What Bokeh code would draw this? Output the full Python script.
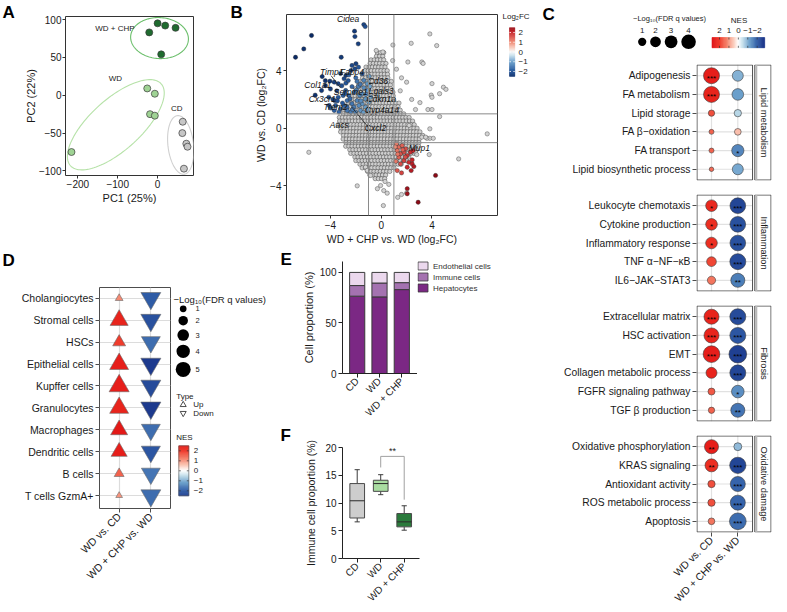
import math
import numpy as np
from bokeh.plotting import figure
from bokeh.layouts import row, column
from bokeh.models import Range1d, FixedTicker, Span, ColumnDataSource
from bokeh.core.properties import value
from bokeh.embed import file_html
from bokeh.resources import INLINE

FONT = "Liberation Sans"
INK = "#1a1a1a"
AX = "#333333"

# ======================= DATA =======================
# ---- A: PCA ----
pca_group = ["WD + CHP"] * 5 + ["WD"] * 5 + ["CD"] * 5
pca_pc1 = [-21, 0, 19, 45, 9, -26, -7, -19, -7, -216, 63, 62, 72, 75, 66]
pca_pc2 = [83, 95, 92, 89, 54, 9, 2, -25, -27, -75, -35, -50, -64, -68, -97]
group_names = ["WD + CHP", "WD", "CD"]
group_label_x = [-107, -106, 48]
group_label_y = [88, 22, -17]
ellipse_cx = [4.8, -104.8, 58.0]
ellipse_cy = [75.5, -39.0, -65.6]
ellipse_major_px = [30.5, 63.0, 29.5]
ellipse_minor_px = [20.5, 26.0, 13.5]
ellipse_angle_deg = [-3.0, 40.0, 97.0]

# ---- B: log2FC vs log2FC ----
cloud_row_y = [5.25, 5.0, 4.75, 4.5, 4.25, 4.0, 3.75, 3.5, 3.25, 3.0, 2.75, 2.5, 2.25, 2.0,
               1.75, 1.5, 1.25, 1.0, 0.75, 0.5, 0.25, 0.0, -0.25, -0.5, -0.75, -1.0, -1.25,
               -1.5, -1.75, -2.0, -2.25, -2.5, -2.75, -3.0, -3.25, -3.5]
cloud_row_xmin = [-0.3, -0.5, -0.8, -1.0, -1.2, -1.4, -1.5, -1.6, -1.7, -1.9, -2.0, -2.2, -2.3, -2.4,
                  -2.6, -2.8, -3.0, -3.1, -3.3, -3.4, -3.4, -3.3, -3.2, -3.1, -3.0, -2.9, -2.8,
                  -2.6, -2.4, -2.2, -2.0, -1.8, -1.5, -1.2, -0.9, -0.6]
cloud_row_xmax = [0.2, 0.3, 0.4, 0.4, 0.5, 0.5, 0.6, 0.7, 0.8, 0.8, 0.9, 1.0, 1.1, 1.2,
                  1.4, 1.5, 1.7, 1.9, 2.2, 2.5, 2.7, 2.9, 3.1, 3.3, 3.2, 3.1, 3.0,
                  2.8, 2.6, 2.3, 2.0, 1.6, 1.2, 0.8, 0.5, 0.3]
bg_x = [3.83, 4.37, 2.36, 0.92, -0.39, 0.13, 2.10, 3.20, 3.30, 1.60, 2.00, 4.00, 4.90, 5.10,
        4.60, 3.94, 4.00, 2.40, 3.05, 3.68, 4.00, 2.70, 4.60, 3.83, 3.83, 8.35, 3.60, 4.10,
        -5.70, 3.78, 6.10, -1.89, 0.20, 0.47, -0.05, 0.17, 1.60, 2.00, 1.30, -1.24, -1.10,
        -0.84, 2.70, 2.80, 3.20, 3.50, 1.20, 0.90, 1.50, 2.20, 0.30, 0.60, -0.30]
bg_y = [6.55, 5.74, 5.90, 5.78, 5.40, 5.30, 4.60, 4.60, 4.50, 3.50, 3.20, 3.10, 2.85, 2.70,
        2.40, 2.30, 2.15, 2.00, 1.78, 1.30, 1.30, 1.30, 0.81, -0.04, -0.70, -0.39, -0.70, -0.70,
        -1.67, -1.83, -2.13, -4.00, -4.33, -4.51, -3.98, -5.37, -4.60, -4.50, -4.80, -2.70, -2.93,
        -3.28, -1.67, -1.83, -0.62, -0.62, 4.10, 4.70, 2.60, 0.20, -3.70, -3.90, -4.20]
down_x = [-5.49, -6.75, -6.10, -3.15, -2.10, -2.07, -1.81, -1.37, -1.26, -1.99, -2.07, -2.39,
          -2.78, -2.92, -4.04, -3.70, -3.39, -2.78, -4.65, -4.39, -4.00, -4.70, -4.13, -3.67,
          -3.39, -3.00, -3.99, -3.60, -3.20, -2.70, -2.30, -2.30, -1.79, -1.50, -2.60, -2.30,
          -2.10, -1.70, -1.37, -1.10, -1.50, -1.24, -0.98, -1.50, -1.24, -1.63, -1.89, -2.15,
          -2.41, -0.84, -1.10, -1.37, -2.68, -2.94, -2.55, -2.80, -1.76, -2.02, -2.68, -3.33,
          -3.70, -4.10, -0.90, -1.00, -1.80, -2.00, -1.60, -1.40, -0.95, -3.50, -5.20, -3.20, -4.40,
          -3.05, -2.45, -1.95, -3.45, -2.85, -2.25, -1.65, -3.80, -2.55, -1.90, -1.20, -3.10]
down_y = [6.44, 4.93, 5.51, 4.93, 6.74, 6.37, 5.86, 7.20, 7.06, 4.48, 4.13, 4.00,
          3.67, 3.44, 3.27, 3.20, 3.09, 3.13, 3.59, 2.96, 2.73, 2.62, 2.15, 1.92,
          2.15, 2.27, 1.41, 1.58, 1.35, 1.46, 1.70, 4.36, 4.24, 3.78, 3.31, 2.89,
          2.50, 2.27, 2.81, 2.62, 2.39, 2.04, 1.81, 1.69, 1.46, 1.23, 1.92, 1.46,
          1.12, 2.16, 3.09, 3.33, 1.92, 1.58, 2.27, 2.62, 1.58, 1.12, 1.23, 1.12,
          1.23, 1.58, 2.90, 1.30, 2.90, 3.50, 1.90, 1.10, 3.60, 2.60, 2.30, 3.80, 3.30,
          1.75, 2.05, 2.65, 1.90, 2.40, 1.30, 3.05, 2.00, 3.70, 3.25, 2.35, 2.95]
down_fc = [-2.6, -2.6, -2.5, -2.4, -2.4, -2.3, -2.3, -2.2, -2.1, -2.3, -2.2, -2.3,
           -2.4, -2.2, -2.4, -2.3, -2.2, -2.0, -2.5, -2.4, -2.3, -2.4, -2.2, -2.1,
           -2.0, -1.9, -2.0, -1.9, -1.8, -1.7, -1.6, -2.2, -2.0, -1.8, -2.0, -1.8,
           -1.6, -1.4, -1.3, -1.1, -1.3, -1.2, -1.0, -1.2, -1.1, -1.2, -1.4, -1.5,
           -1.5, -1.0, -1.2, -1.4, -1.7, -1.8, -1.7, -1.9, -1.3, -1.4, -1.6, -1.8,
           -1.9, -2.1, -1.0, -1.0, -1.5, -1.7, -1.3, -1.1, -1.1, -2.2, -2.5, -2.3, -2.5,
           -2.0, -1.8, -1.5, -2.1, -1.9, -1.5, -1.6, -2.2, -1.9, -1.6, -1.2, -2.1]
up_x = [1.20, 1.39, 1.65, 1.92, 1.26, 1.52, 1.79, 2.05, 2.31, 2.52, 1.39, 1.79, 2.18, 2.44,
        1.52, 2.05, 2.44, 2.57, 2.36, 1.26, 4.28, 2.05, 2.05, 2.91, 1.10, 1.30, 1.70, 1.15, 1.60, 1.90]
up_y = [-1.08, -1.31, -1.20, -1.43, -1.55, -1.78, -1.66, -1.90, -1.66, -1.55, -2.02, -2.25, -2.37, -2.20,
        -2.48, -2.71, -2.48, -2.66, -2.94, -2.94, -3.28, -4.20, -4.55, -5.14, -1.30, -1.80, -1.50, -2.30, -3.10, -2.00]
up_fc = [1.1, 1.3, 1.4, 1.6, 1.2, 1.5, 1.6, 1.8, 1.9, 2.0, 1.4, 1.7, 1.9, 2.0,
         1.6, 2.0, 2.1, 2.2, 2.2, 1.5, 2.6, 2.4, 2.4, 2.6, 1.0, 1.2, 1.4, 1.2, 1.7, 1.6]
gene_name = ["Cidea", "Timp1", "Fabp4", "Col1a1", "Cd36", "Serpine1", "Lgals3", "Cx3cr1",
             "Cdkn1a", "Trem2", "Cyp4a14", "Aacs", "Cxcl2", "Mup1"]
gene_x = [-2.6, -3.9, -2.3, -5.0, -0.25, -2.4, 0.0, -4.65, 0.0, -3.6, 0.05, -3.3, -0.45, 3.0]
gene_y = [7.6, 3.9, 3.9, 3.0, 3.3, 2.55, 2.6, 2.0, 2.0, 1.45, 1.3, 0.25, 0.05, -1.35]
leader_x0 = [-3.95, -2.3]
leader_y0 = [3.65, 1.45]
leader_x1 = [-3.2, -0.95]
leader_y1 = [2.8, 0.0]

# ---- C: pathway dot plot ----
c_pathway = ["Adipogenesis", "FA metabolism", "Lipid storage", "FA β−oxidation", "FA transport",
             "Lipid biosynthetic process",
             "Leukocyte chemotaxis", "Cytokine production", "Inflammatory response", "TNF α−NF−κB",
             "IL6−JAK−STAT3",
             "Extracellular matrix", "HSC activation", "EMT", "Collagen metabolic process",
             "FGFR signaling pathway", "TGF β production",
             "Oxidative phosphorylation", "KRAS signaling", "Antioxidant activity",
             "ROS metabolic process", "Apoptosis"]
c_category = ["Lipid metabolism"] * 6 + ["Inflammation"] * 5 + ["Fibrosis"] * 6 + ["Oxidative damage"] * 5
c_q_wd = [4.9, 4.9, 0.41, 0.1, 0.1, 0.0,
          2.4, 2.4, 2.4, 1.55, 1.0,
          4.3, 4.3, 5.4, 2.1, 0.6, 0.41,
          3.7, 3.1, 0.7, 0.7, 0.52]
c_q_chp = [2.1, 2.4, 0.7, 0.52, 2.7, 2.1,
           4.7, 4.7, 4.7, 4.9, 3.7,
           4.9, 4.9, 6.1, 4.9, 2.9, 3.7,
           0.9, 5.1, 4.3, 4.3, 5.4]
c_nes_wd = [2.4, 2.3, 1.7, 1.5, 1.5, 1.4,
            2.2, 2.1, 2.1, 1.8, 1.3,
            2.3, 2.3, 2.4, 2.3, 1.6, 1.5,
            2.4, 2.1, 1.7, 1.7, 1.3]
c_nes_chp = [-1.0, -1.2, -0.6, 0.6, -1.5, -1.1,
             -2.4, -2.2, -2.2, -2.3, -1.6,
             -2.3, -2.1, -2.5, -2.4, -1.4, -1.7,
             -0.9, -2.4, -1.9, -1.9, -1.8]
c_sig_wd = ["***", "***", "", "", "", "",
            "*", "*", "*", "", "",
            "***", "***", "***", "", "", "",
            "**", "**", "", "", ""]
c_sig_chp = ["", "", "", "", "*", "",
             "***", "***", "***", "***", "**",
             "***", "***", "***", "***", "*", "**",
             "", "***", "***", "***", "***"]
comparisons = ["WD vs. CD", "WD + CHP vs. WD"]
c_legend_q = [1, 2, 3, 4]
nes_ticks = [2, 1, 0, -1, -2]

# ---- D: cell types ----
d_cell = ["Cholangiocytes", "Stromal cells", "HSCs", "Epithelial cells", "Kupffer cells",
          "Granulocytes", "Macrophages", "Dendritic cells", "B cells", "T cells GzmA+"]
d_q_up = [0.8, 4.3, 2.2, 4.7, 5.3, 4.7, 3.8, 3.4, 1.3, 0.6]
d_q_down = [5.2, 5.3, 4.7, 5.3, 5.2, 5.3, 4.7, 4.8, 4.7, 5.2]
d_nes_up = [1.1, 2.3, 1.9, 2.4, 2.4, 2.3, 2.5, 2.4, 1.5, 1.0]
d_nes_down = [-2.0, -2.2, -1.8, -2.6, -2.3, -2.6, -1.8, -2.1, -1.7, -1.8]
d_legend_q = [1, 2, 3, 4, 5]

# ---- E: cell proportions ----
diet = ["CD", "WD", "WD + CHP"]
e_series = ["Hepatocytes", "Immune cells", "Endothelial cells"]
e_hep = [76.5, 75.8, 83.0]
e_imm = [10.5, 13.7, 6.9]
e_endo = [13.0, 10.5, 10.1]

# ---- F: immune cell proportion box plot ----
f_min = [6.6, 11.5, 5.1]
f_q1 = [7.3, 12.1, 5.7]
f_med = [10.4, 13.5, 6.6]
f_q3 = [13.5, 14.1, 8.1]
f_max = [16.0, 15.1, 9.5]
f_sig_pair = [2, 3]
f_sig_top = 18.4
f_sig_leg = [16.4, 10.6]
f_sig_text = "**"

# ======================= STYLE HELPERS =======================
NES_STOPS = [(-2.8, "#172f86"), (-2.0, "#2f5ca6"), (-1.2, "#6a9fcb"), (-0.5, "#c4dfeb"), (0.0, "#ffffff"),
             (0.5, "#fbc9b8"), (1.2, "#f47e66"), (2.0, "#ee3324"), (2.8, "#dd0a0f")]
FC_STOPS = [(-2.6, "#0a2a66"), (-2.0, "#24569b"), (-1.0, "#6ea3cd"), (-0.3, "#d6e7f1"), (0.0, "#f7f7f7"),
            (0.3, "#f9d9cc"), (1.0, "#ef8a74"), (2.0, "#c8252a"), (2.6, "#8c0a16")]
E_COLORS = ["#7b2884", "#a472b0", "#ebd8ed"]


def hex2rgb(h):
    h = h.lstrip("#")
    return tuple(int(h[i:i + 2], 16) for i in (0, 2, 4))


def ramp(v, stops):
    if v <= stops[0][0]:
        return stops[0][1]
    if v >= stops[-1][0]:
        return stops[-1][1]
    for (a, ca), (b, cb) in zip(stops[:-1], stops[1:]):
        if a <= v <= b:
            t = (v - a) / (b - a)
            ra, rb = hex2rgb(ca), hex2rgb(cb)
            return "#%02x%02x%02x" % tuple(int(round(ra[i] + t * (rb[i] - ra[i]))) for i in range(3))
    return stops[-1][1]


def base(w, h, xr, yr, l, r, t, b):
    p = figure(width=w, height=h, x_range=xr, y_range=yr, output_backend="svg",
               toolbar_location=None, tools="", title=None,
               min_border_left=l, min_border_right=r, min_border_top=t, min_border_bottom=b)
    p.frame_align = False
    p.outline_line_color = None
    p.grid.visible = False
    p.background_fill_color = "white"
    p.border_fill_color = "white"
    for ax in p.axis:
        ax.major_label_text_font = FONT
        ax.major_label_text_font_size = "10px"
        ax.major_label_text_color = INK
        ax.axis_label_text_font = FONT
        ax.axis_label_text_font_size = "11px"
        ax.axis_label_text_font_style = "normal"
        ax.axis_label_text_color = INK
        ax.minor_tick_line_color = None
        ax.major_tick_in = 0
        ax.major_tick_out = 3
        ax.major_tick_line_color = AX
        ax.axis_line_color = AX
        ax.major_label_standoff = 2
        ax.axis_label_standoff = 2
    return p


def pixfig(w, h):
    p = figure(width=w, height=h, x_range=Range1d(0, w), y_range=Range1d(h, 0), output_backend="svg",
               toolbar_location=None, tools="", title=None,
               min_border_left=0, min_border_right=0, min_border_top=0, min_border_bottom=0)
    p.frame_align = False
    p.axis.visible = False
    p.grid.visible = False
    p.outline_line_color = None
    return p


def txt(p, xs, ys, ts, size, align="left", baseline="middle", color=INK, style="normal", angle=0.0, yoff=0):
    p.text(x=list(xs), y=list(ys), text=list(ts), text_font=value(FONT), text_font_size=size,
           text_align=align, text_baseline=baseline, text_color=color, text_font_style=style,
           angle=angle, y_offset=yoff)


def letterfig(w, h, ch, x, y):
    p = pixfig(w, h)
    txt(p, [x], [y], [ch], "17px", style="bold", color="black")
    return p


def minus(v):
    return ("−%g" % abs(v)) if v < 0 else "%g" % v


GROUP_FILL = {"WD + CHP": "#1f6b2f", "WD": "#9fd394", "CD": "#c6c6c6"}
GROUP_LINE = {"WD + CHP": "#6cbf6c", "WD": "#b6e2a8", "CD": "#d0d0d0"}

# ======================= PANEL A =======================
pA = base(209, 248, Range1d(-231, 90), Range1d(-106, 104), 37, 37, 16, 73)
pA.outline_line_color = AX
pA.axis.axis_line_color = None
pA.axis.major_label_standoff = 1
pA.xaxis.axis_label_standoff = 1
pA.yaxis.axis_label_standoff = -1
pA.xaxis.ticker = FixedTicker(ticks=[-200, -100, 0])
pA.xaxis.major_label_overrides = {t: minus(t) for t in [-200, -100, 0]}
pA.yaxis.ticker = FixedTicker(ticks=[-100, -50, 0, 50, 100])
pA.yaxis.major_label_overrides = {t: minus(t) for t in [-100, -50, 0, 50, 100]}
pA.xaxis.axis_label = "PC1 (25%)"
pA.yaxis.axis_label = "PC2 (22%)"
sxA = 135.0 / 321.0
syA = 159.0 / 210.0
tt = np.linspace(0, 2 * np.pi, 120)
for g, cx, cy, a, b, ang in zip(group_names, ellipse_cx, ellipse_cy, ellipse_major_px,
                                ellipse_minor_px, ellipse_angle_deg):
    th = math.radians(ang)
    X = a * np.cos(tt) * math.cos(th) - b * np.sin(tt) * math.sin(th)
    Y = a * np.cos(tt) * math.sin(th) + b * np.sin(tt) * math.cos(th)
    pA.line(cx + X / sxA, cy + Y / syA, line_color=GROUP_LINE[g], line_width=1.1)
pA.scatter(pca_pc1, pca_pc2, size=7, marker="circle",
           fill_color=[GROUP_FILL[g] for g in pca_group], line_color="#3a3a3a", line_width=0.7)
txt(pA, group_label_x, group_label_y, group_names, "8px", align="center")
letA = letterfig(21, 248, "A", 2, 11.5)

# ======================= PANEL B =======================
pB = base(254, 248, Range1d(-7.46, 9.16), Range1d(-6.06, 7.9), 40, 3, 14, 33)
pB.outline_line_color = AX
pB.axis.axis_line_color = None
pB.xaxis.ticker = FixedTicker(ticks=[-4, 0, 4])
pB.yaxis.ticker = FixedTicker(ticks=[-4, 0, 4])
pB.xaxis.major_label_overrides = {-4: "−4", 0: "0", 4: "4"}
pB.yaxis.major_label_overrides = {-4: "−4", 0: "0", 4: "4"}
pB.xaxis.axis_label = "WD + CHP vs. WD (log₂FC)"
pB.yaxis.axis_label = "WD vs. CD (log₂FC)"
pB.axis.axis_label_text_font_size = "10.5px"
pB.yaxis.axis_label_standoff = 0
pB.xaxis.axis_label_standoff = 1
cx_pts, cy_pts = [], []
for k, (yy, xa, xb) in enumerate(zip(cloud_row_y, cloud_row_xmin, cloud_row_xmax)):
    off = 0.125 if k % 2 else 0.0
    xs = np.arange(xa + off, xb + 1e-6, 0.25)
    cx_pts += list(xs)
    cy_pts += [yy] * len(xs)
pB.scatter(cx_pts, cy_pts, size=4.3, marker="circle", fill_color="#cfcfcf", line_color="#505050", line_width=0.55)
pB.scatter(bg_x, bg_y, size=4.3, marker="circle", fill_color="#d2d2d2", line_color="#555555", line_width=0.5)
pB.scatter(down_x, down_y, size=4.3, marker="circle", fill_color=[ramp(v, FC_STOPS) for v in down_fc],
           line_color="#2a2a2a", line_width=0.4)
pB.scatter(up_x, up_y, size=4.3, marker="circle", fill_color=[ramp(v, FC_STOPS) for v in up_fc],
           line_color="#2a2a2a", line_width=0.4)
for loc, dim in [(-1, "height"), (1, "height"), (-1, "width"), (1, "width")]:
    pB.add_layout(Span(location=loc, dimension=dim, line_color="#8a8a8a", line_width=1))
pB.segment(leader_x0, leader_y0, leader_x1, leader_y1, line_color="#222222", line_width=0.8)
txt(pB, gene_x, gene_y, gene_name, "8.5px", align="center", style="italic", color="#111111")
letB = letterfig(16, 248, "B", 0, 11.5)

pBc = pixfig(40, 248)
n_steps = 60
FC0 = 51.5
vals = np.linspace(2.5, -2.5, n_steps + 1)
mids = (vals[:-1] + vals[1:]) / 2
cols = [ramp(m, FC_STOPS) for m in mids]
pBc.quad(left=9, right=14.3, top=list(FC0 - vals[:-1] * 9.75), bottom=list(FC0 - vals[1:] * 9.75),
         fill_color=cols, line_color=cols, line_width=0.5)
fc_ticks = [2, 1, 0, -1, -2]
pBc.segment(x0=[9] * 5, x1=[10.5] * 5, y0=[FC0 - t * 9.75 for t in fc_ticks],
            y1=[FC0 - t * 9.75 for t in fc_ticks], line_color="white", line_width=0.8)
pBc.segment(x0=[12.8] * 5, x1=[14.3] * 5, y0=[FC0 - t * 9.75 for t in fc_ticks],
            y1=[FC0 - t * 9.75 for t in fc_ticks], line_color="white", line_width=0.8)
txt(pBc, [18] * 5, [FC0 - t * 9.75 for t in fc_ticks], [minus(t) for t in fc_ticks], "8px")
txt(pBc, [2], [16], ["Log₂FC"], "8px")

# ======================= PANEL D =======================
pD = base(172, 332, Range1d(0.38, 2.62), Range1d(0.41, 10.49), 99, 2, 9, 102)
pD.outline_line_color = "#4d4d4d"
d_rows = list(range(len(d_cell), 0, -1))
pD.yaxis.ticker = FixedTicker(ticks=d_rows)
pD.yaxis.major_label_overrides = {r: c for r, c in zip(d_rows, d_cell)}
pD.xaxis.ticker = FixedTicker(ticks=[1, 2])
pD.xaxis.major_label_overrides = {1: comparisons[0], 2: comparisons[1]}
pD.xaxis.major_label_orientation = math.pi / 4
pD.axis.axis_line_color = None
pD.axis.major_label_text_font_size = "10.5px"
pD.axis.major_tick_out = 4
pD.axis.major_tick_line_color = "#4d4d4d"
pD.xgrid.visible = True
pD.ygrid.visible = True
pD.xgrid.ticker = FixedTicker(ticks=[1, 2])
pD.ygrid.ticker = FixedTicker(ticks=d_rows)
pD.grid.grid_line_color = "#dcdcdc"
pD.grid.grid_line_width = 1.2
TRI_K = 1.3
pD.scatter([1] * len(d_rows), d_rows, marker="triangle",
           size=[TRI_K * math.sqrt(45 * q) for q in d_q_up],
           fill_color=[ramp(v, NES_STOPS) for v in d_nes_up], line_color="#6a6a6a", line_width=0.6)
pD.scatter([2] * len(d_rows), d_rows, marker="inverted_triangle",
           size=[TRI_K * math.sqrt(45 * q) for q in d_q_down],
           fill_color=[ramp(v, NES_STOPS) for v in d_nes_down], line_color="#6a6a6a", line_width=0.6)
letD = letterfig(172, 30, "D", 2, 12)

pDl = pixfig(108, 362)
txt(pDl, [1], [51], ["−Log₁₀(FDR q values)"], "9.5px")
dd = [math.sqrt(45 * q) for q in d_legend_q]
dy = [60.3]
for i in range(1, len(dd)):
    dy.append(dy[-1] + (dd[i - 1] + dd[i]) / 2 + 3.8)
pDl.scatter([10.7] * len(dd), dy, size=dd, marker="circle", fill_color="black", line_color=None)
txt(pDl, [23] * len(dd), dy, [str(q) for q in d_legend_q], "7.5px")
txt(pDl, [3.7], [147.7], ["Type"], "8px")
pDl.scatter([10.7], [156.3], marker="triangle", size=6, fill_color=None, line_color="#222222", line_width=0.8)
pDl.scatter([10.7], [164.7], marker="inverted_triangle", size=6, fill_color=None, line_color="#222222", line_width=0.8)
txt(pDl, [20.7, 20.7], [156.3, 164.7], ["Up", "Down"], "8px")
txt(pDl, [3.7], [189.3], ["NES"], "8px")
vals = np.linspace(2.5, -2.5, n_steps + 1)
mids = (vals[:-1] + vals[1:]) / 2
cols = [ramp(m, NES_STOPS) for m in mids]
pDl.quad(left=6.3, right=16.3, top=list(222.3 - vals[:-1] * 10), bottom=list(222.3 - vals[1:] * 10),
         fill_color=cols, line_color=cols, line_width=0.5)
pDl.segment(x0=[6.3] * 5, x1=[8.3] * 5, y0=[222.3 - t * 10 for t in nes_ticks],
            y1=[222.3 - t * 10 for t in nes_ticks], line_color="#333333", line_width=0.7)
pDl.segment(x0=[14.3] * 5, x1=[16.3] * 5, y0=[222.3 - t * 10 for t in nes_ticks],
            y1=[222.3 - t * 10 for t in nes_ticks], line_color="#333333", line_width=0.7)
pDl.quad(left=6.3, right=16.3, top=197.3, bottom=247.3, fill_color=None, line_color="#555555", line_width=0.6)
txt(pDl, [21.3] * 5, [222.3 - t * 10 for t in nes_ticks], [minus(t) for t in nes_ticks], "8px")

# ======================= PANEL E =======================
pE = base(119, 177, Range1d(0.341, 3.704), Range1d(0, 110.8), 44, 0, 13, 51)
pE.xaxis.ticker = FixedTicker(ticks=[1, 2, 3])
pE.xaxis.major_label_overrides = {i + 1: d for i, d in enumerate(diet)}
pE.xaxis.major_label_orientation = math.pi / 4
pE.yaxis.ticker = FixedTicker(ticks=[0, 50, 100])
pE.yaxis.axis_label = "Cell proportion (%)"
pE.yaxis.axis_label_standoff = 2
pE.axis.axis_line_color = "#222222"
pE.axis.major_tick_line_color = "#222222"
pE.axis.major_tick_out = 4
srcE = ColumnDataSource(dict(x=[1, 2, 3], hep=e_hep, imm=e_imm, endo=e_endo))
pE.vbar_stack(["hep", "imm", "endo"], x="x", width=0.68, source=srcE,
              fill_color=E_COLORS, line_color="#3a3a3a", line_width=1)
letE = letterfig(18, 177, "E", 0, 10.5)
pEl = pixfig(123, 177)
leg_order = list(reversed(range(len(e_series))))
ly = [17.5 + 11 * k for k in range(len(leg_order))]
pEl.quad(left=0.5, right=10.5, top=[y - 4 for y in ly], bottom=[y + 4 for y in ly],
         fill_color=[E_COLORS[i] for i in leg_order], line_color="#3a3a3a", line_width=0.8)
txt(pEl, [15.5] * len(ly), ly, [e_series[i] for i in leg_order], "8px", color="#333333")

# ======================= PANEL F =======================
pF = base(242, 185, Range1d(0.374, 3.651), Range1d(0, 20), 44, 121, 22, 52)
pF.xaxis.ticker = FixedTicker(ticks=[1, 2, 3])
pF.xaxis.major_label_overrides = {i + 1: d for i, d in enumerate(diet)}
pF.xaxis.major_label_orientation = math.pi / 4
pF.yaxis.ticker = FixedTicker(ticks=[0, 5, 10, 15, 20])
pF.yaxis.axis_label = "Immune cell proportion (%)"
pF.yaxis.axis_label_standoff = 5
pF.axis.axis_label_text_font_size = "10.5px"
pF.axis.axis_line_color = "#222222"
pF.axis.major_tick_line_color = "#222222"
pF.axis.major_tick_out = 4
fx = [1, 2, 3]
bw = 0.625
pF.segment(fx, f_min, fx, f_q1, line_color="#3a3a3a", line_width=1)
pF.segment(fx, f_q3, fx, f_max, line_color="#3a3a3a", line_width=1)
pF.segment([x - 0.11 for x in fx], f_min, [x + 0.11 for x in fx], f_min, line_color="#3a3a3a", line_width=1)
pF.segment([x - 0.11 for x in fx], f_max, [x + 0.11 for x in fx], f_max, line_color="#3a3a3a", line_width=1)
pF.vbar(x=fx, width=bw, bottom=f_q1, top=f_q3, fill_color=["#cdcdcd", "#a9dca1", "#2a7a3b"],
        line_color="#4a4a4a", line_width=1)
pF.segment([x - bw / 2 for x in fx], f_med, [x + bw / 2 for x in fx], f_med, line_color="#2a2a2a", line_width=1)
pF.segment([f_sig_pair[0], f_sig_pair[0], f_sig_pair[1]], [f_sig_leg[0], f_sig_top, f_sig_leg[1]],
           [f_sig_pair[0], f_sig_pair[1], f_sig_pair[1]], [f_sig_top, f_sig_top, f_sig_top],
           line_color="#a0a0a0", line_width=1)
txt(pF, [(f_sig_pair[0] + f_sig_pair[1]) / 2], [f_sig_top + 0.9], [f_sig_text], "9px", align="center")
letF = letterfig(18, 185, "F", 0, 10)

# ======================= PANEL C =======================
pCl = pixfig(245, 62)
txt(pCl, [2], [14], ["C"], "17px", style="bold", color="black")
txt(pCl, [129], [18], ["−Log₁₀(FDR q values)"], "7.5px", align="center")
cd = [math.sqrt(20 + 48 * q) for q in c_legend_q]
cxl = [101.7]
for i in range(1, len(cd)):
    cxl.append(cxl[-1] + (cd[i - 1] + cd[i]) / 2 + 3.8)
txt(pCl, cxl, [29.7] * len(cd), [str(q) for q in c_legend_q], "8px", align="center")
pCl.scatter(cxl, [41.3] * len(cd), size=cd, marker="circle", fill_color="black", line_color=None)
txt(pCl, [198.5], [19.7], ["NES"], "8px", align="center")
hv = np.linspace(2.8, -2.8, n_steps + 1)
hm = (hv[:-1] + hv[1:]) / 2
hc = [ramp(m, NES_STOPS) for m in hm]
pCl.quad(left=list(197.85 - hv[:-1] * 9.42), right=list(197.85 - hv[1:] * 9.42), top=37, bottom=47.3,
         fill_color=hc, line_color=hc, line_width=0.5)
pCl.segment(x0=[197.85 - t * 9.42 for t in nes_ticks], x1=[197.85 - t * 9.42 for t in nes_ticks],
            y0=[45.3] * 5, y1=[47.3] * 5, line_color="#333333", line_width=0.7)
pCl.segment(x0=[197.85 - t * 9.42 for t in nes_ticks], x1=[197.85 - t * 9.42 for t in nes_ticks],
            y0=[37] * 5, y1=[39] * 5, line_color="#333333", line_width=0.7)
txt(pCl, [197.85 - t * 9.42 for t in nes_ticks], [29.7] * 5, [minus(t) for t in nes_ticks], "8px", align="center")

C_X0, C_X1 = 0.43, 3.28
C_W = 245


def c_size(q):
    return math.sqrt(20 + 48 * q)


def facet(cat, h, top, bottom, show_x):
    idx = [i for i, c in enumerate(c_category) if c == cat]
    names = [c_pathway[i] for i in idx]
    n = len(names)
    ys = [n - k for k in range(n)]
    y0, y1 = 0.4, n + 0.6
    p = base(C_W, h, Range1d(C_X0, C_X1), Range1d(y0, y1), 156, C_W - 156 - 75, top, bottom)
    frame_h = h - top - bottom
    upy = (y1 - y0) / frame_h
    upx = (C_X1 - C_X0) / 75.0
    bx0, bx1 = C_X0 + 0.5 * upx, 2.56
    by0, by1 = y0 + 0.5 * upy, y1 - 0.5 * upy
    p.segment([bx0] * n, ys, [bx1] * n, ys, line_color="#e1e1e1", line_width=1.2)
    p.segment([1, 2], [y0, y0], [1, 2], [y1, y1], line_color="#e1e1e1", line_width=1.2)
    p.quad(left=[bx0], right=[bx1], bottom=[by0], top=[by1], fill_color=None, line_color="#4d4d4d", line_width=1)
    sx0, sx1 = 2.645, C_X1 - 0.5 * upx
    p.quad(left=[sx0], right=[sx1], bottom=[by0], top=[by1], fill_color="white", line_color="#4d4d4d", line_width=1)
    p.quad(left=[sx0 + 0.5 * upx], right=[sx0 + 2.5 * upx], bottom=[by0], top=[by1], fill_color="#b8b8b8",
           line_color=None)
    txt(p, [(sx0 + sx1) / 2 + 0.05], [(y0 + y1) / 2], [cat], "9.3px", align="center", angle=-math.pi / 2,
        color="#1a1a1a")
    for col, qs, nes, sig in ((1, c_q_wd, c_nes_wd, c_sig_wd), (2, c_q_chp, c_nes_chp, c_sig_chp)):
        p.scatter([col] * n, ys, marker="circle", size=[c_size(qs[i]) for i in idx],
                  fill_color=[ramp(nes[i], NES_STOPS) for i in idx], line_color="#3a3a3a", line_width=0.6)
        txt(p, [col] * n, ys, [sig[i] for i in idx], "8px", align="center", color="black", yoff=2.5)
    yax = p.yaxis[0]
    yax.ticker = FixedTicker(ticks=ys)
    yax.major_label_overrides = {y: nm for y, nm in zip(ys, names)}
    yax.axis_line_color = None
    yax.major_tick_out = 4
    yax.major_tick_line_color = "#4d4d4d"
    p.axis.major_label_text_font_size = "10.3px"
    xax = p.xaxis[0]
    if show_x:
        xax.ticker = FixedTicker(ticks=[1, 2])
        xax.major_label_overrides = {1: comparisons[0], 2: comparisons[1]}
        xax.major_label_orientation = math.pi / 4
        xax.axis_line_color = None
        xax.major_tick_out = 4
        xax.major_tick_line_color = "#4d4d4d"
    else:
        xax.visible = False
    return p


fC1 = facet("Lipid metabolism", 125, 2, 7, False)
fC2 = facet("Inflammation", 111, 7, 7, False)
fC3 = facet("Fibrosis", 130, 7, 7, False)
fC4 = facet("Oxidative damage", 182, 7, 78, True)

# ======================= LAYOUT =======================
top_row = row(letA, pA, letB, pB, pBc)
ef_col = column(row(letE, pE, pEl), row(letF, pF))
bottom_row = row(column(letD, pD), pDl, ef_col)
left = column(top_row, bottom_row)
right = column(pCl, fC1, fC2, fC3, fC4)
layout = row(left, right)

open("out.html", "w").write(file_html(layout, INLINE))
